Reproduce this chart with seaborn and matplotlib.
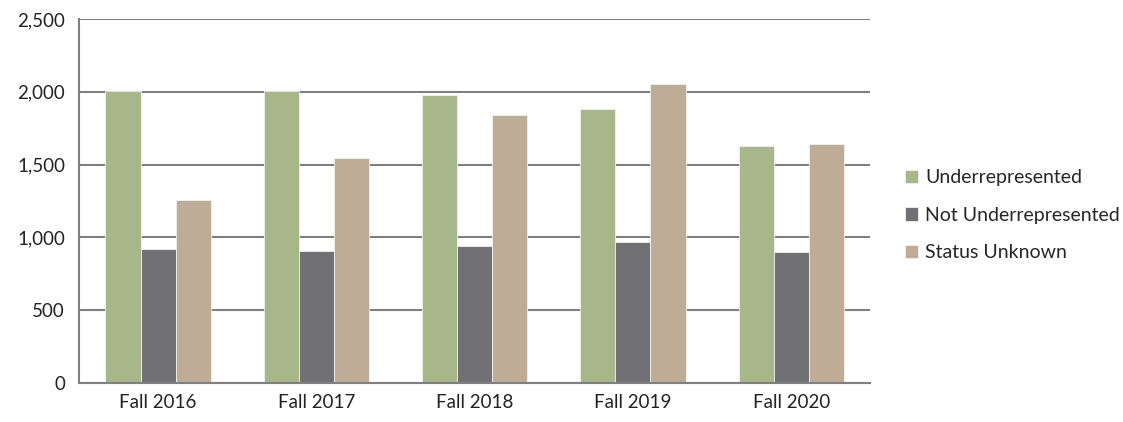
import pandas as pd
import numpy as np
import matplotlib
matplotlib.use("Agg")
import matplotlib.pyplot as plt
import seaborn as sns

# data
terms = ["Fall 2016", "Fall 2017", "Fall 2018", "Fall 2019", "Fall 2020"]
underrepresented = [2005, 2005, 1978, 1882, 1626]
not_underrepresented = [920, 906, 943, 970, 900]
status_unknown = [1257, 1545, 1843, 2051, 1644]
groups = ["Underrepresented", "Not Underrepresented", "Status Unknown"]
colors = ["#A7B78A", "#717075", "#BEAC96"]

df = pd.DataFrame({
    "term": terms * 3,
    "status": [groups[0]] * 5 + [groups[1]] * 5 + [groups[2]] * 5,
    "count": underrepresented + not_underrepresented + status_unknown,
})

sns.set_style("white")
plt.rcParams["font.family"] = ["Lato", "DejaVu Sans"]

fig = plt.figure(figsize=(11.23, 4.22), dpi=100)
ax = fig.add_axes([0.0703, 0.0924, 0.7047, 0.8626])

sns.barplot(data=df, x="term", y="count", hue="status", hue_order=groups,
            palette=colors, saturation=1, width=0.665, ax=ax,
            edgecolor="#F2F2EC", linewidth=0.6, errorbar=None)

ax.set_ylim(0, 2500)
ax.set_xlim(-0.5, 4.5)
ax.set_yticks(np.arange(0, 2501, 500))
ax.set_yticklabels([f"{v:,}" for v in range(0, 2501, 500)])
ax.yaxis.grid(True, color="#808080", linewidth=1.5)
ax.set_axisbelow(True)
ax.set_xlabel("")
ax.set_ylabel("")

for s in ["top", "right"]:
    ax.spines[s].set_visible(False)
for s in ["left", "bottom"]:
    ax.spines[s].set_color("#808080")
    ax.spines[s].set_linewidth(1.5)

ax.set_xticks(np.arange(-0.5, 4.6, 1), minor=True)
ax.tick_params(axis="x", which="major", length=0, labelsize=13.5, pad=8, colors="#222222")
ax.tick_params(axis="x", which="minor", length=6, width=1.5, color="#808080")
ax.tick_params(axis="y", length=6, width=1.5, color="#808080", labelsize=13.5, pad=4)
for lbl in ax.get_yticklabels() + ax.get_xticklabels():
    lbl.set_color("#222222")

handles, labels = ax.get_legend_handles_labels()
ax.get_legend().remove()
fig.legend(handles, labels, loc="center left", bbox_to_anchor=(0.79, 0.49),
           frameon=False, fontsize=14, handlelength=0.7, handleheight=0.7,
           handletextpad=0.35, labelspacing=1.05)

fig.savefig("out.png", dpi=100)
